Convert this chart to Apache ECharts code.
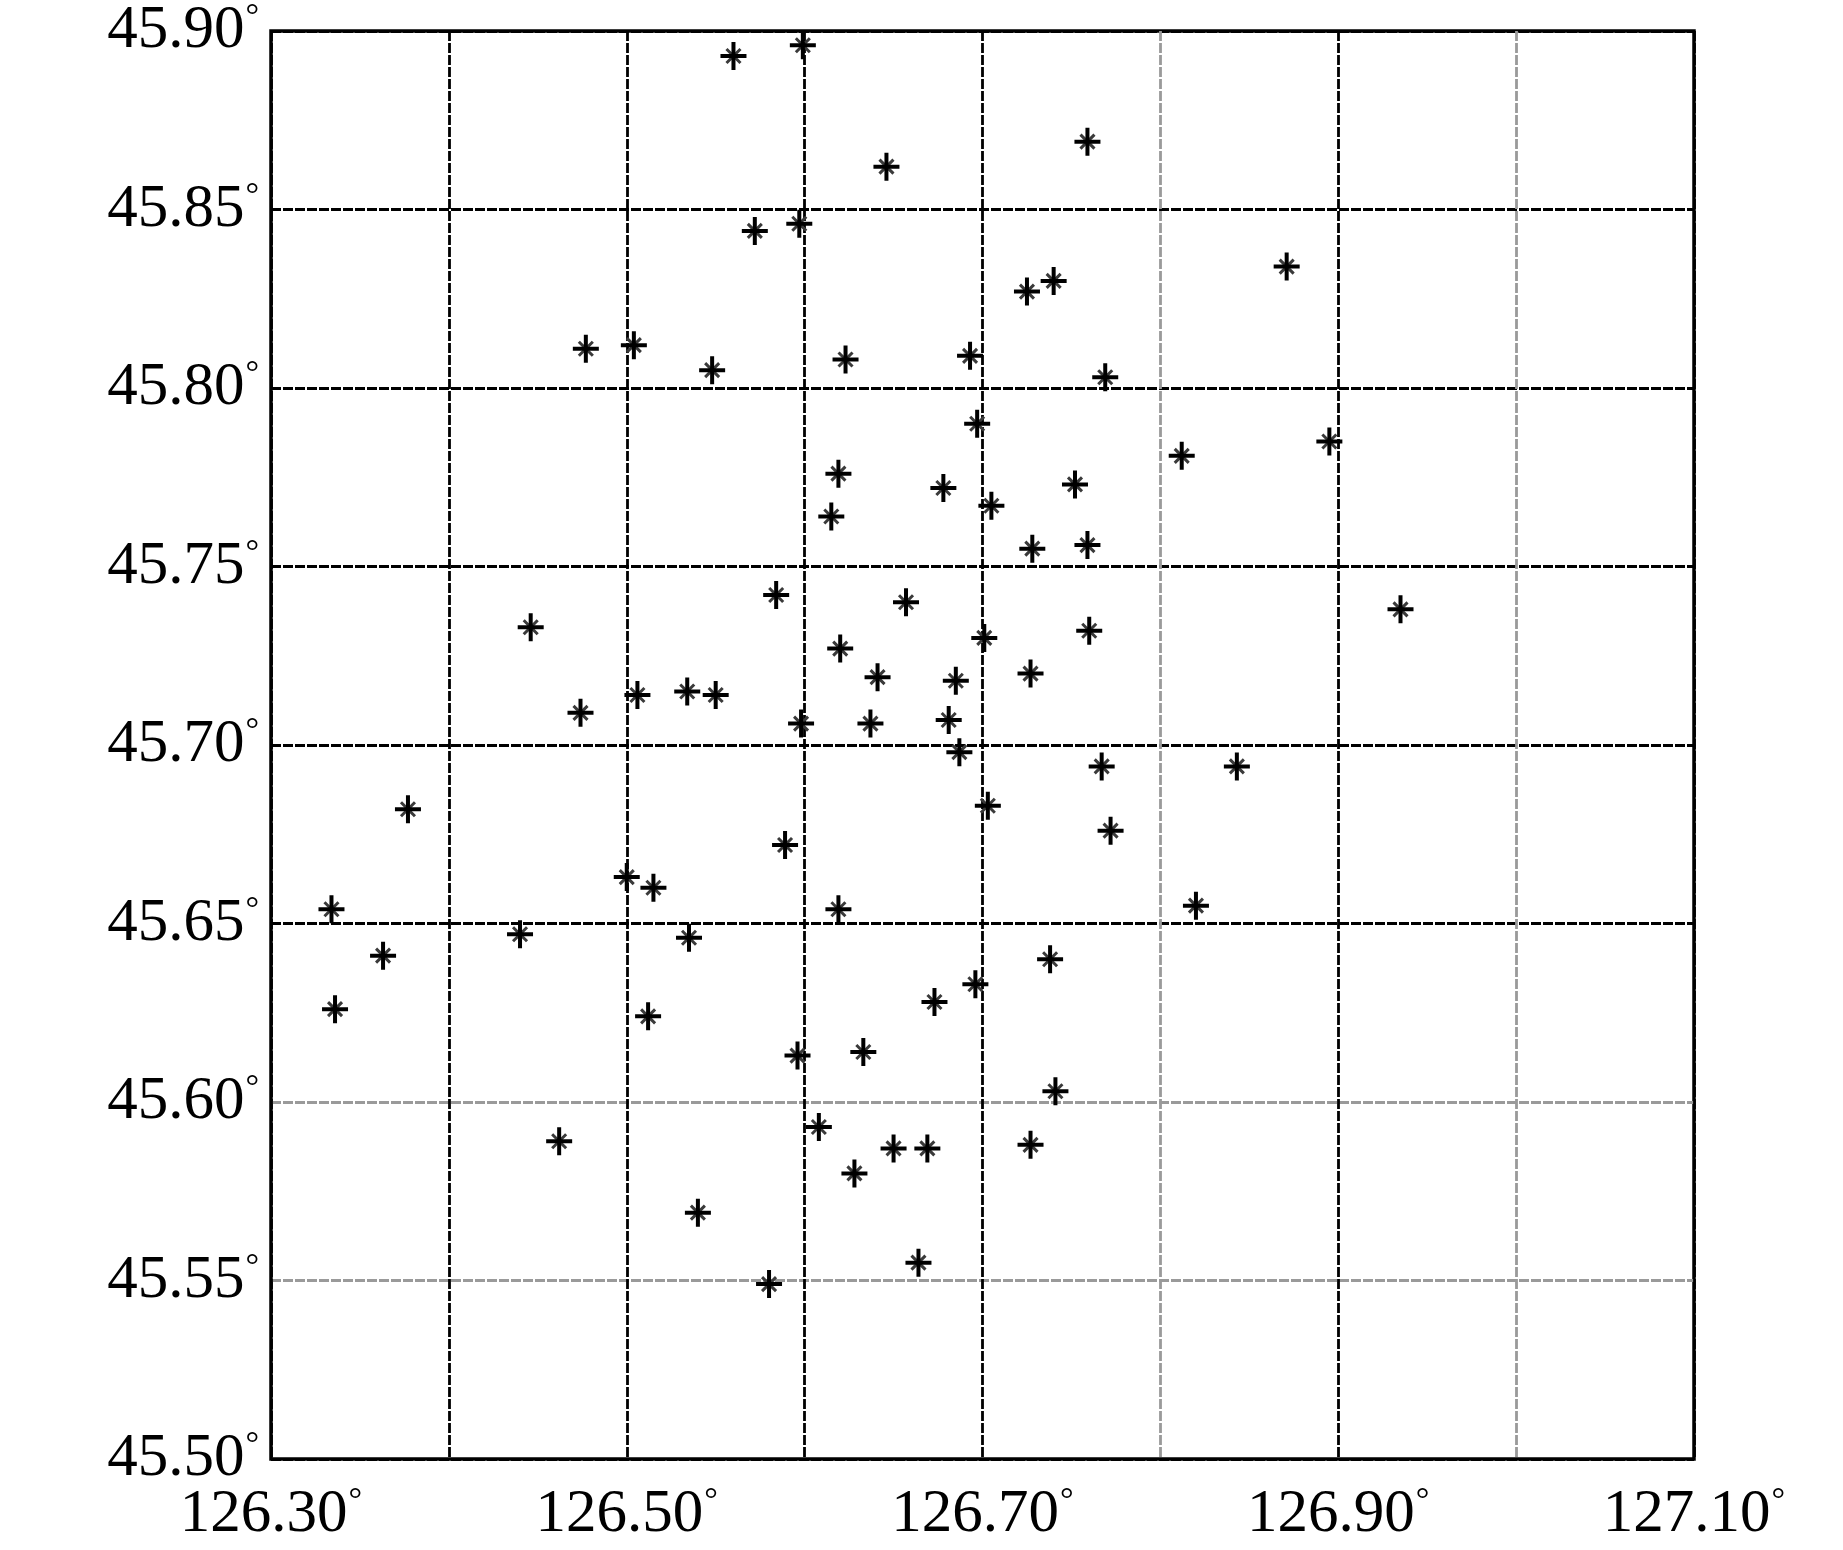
<!DOCTYPE html>
<html>
<head>
<meta charset="utf-8">
<script src="https://cdn.jsdelivr.net/npm/echarts@6/dist/echarts.min.js"></script>
<style>
html, body { margin: 0; padding: 0; background: #fff; }
#chart { width: 1843px; height: 1550px; }
</style>
</head>
<body>
<div id="chart"></div>
<script>
// 经度 (x) / 纬度 (y) of each station
var lon = [
  126.560, 126.599, 126.646, 126.759, 126.572, 126.597, 126.871, 126.725, 126.740, 126.477,
  126.504, 126.548, 126.623, 126.693, 126.769, 126.697, 126.812, 126.895, 126.619, 126.615,
  126.678, 126.705, 126.752, 126.728, 126.759, 126.584, 126.657, 126.935, 126.446, 126.760,
  126.701, 126.620, 126.641, 126.727, 126.685, 126.534, 126.550, 126.506, 126.474, 126.598,
  126.637, 126.681, 126.687, 126.767, 126.843, 126.377, 126.703, 126.772, 126.589, 126.500,
  126.515, 126.334, 126.619, 126.820, 126.440, 126.535, 126.363, 126.738, 126.696, 126.673,
  126.336, 126.512, 126.633, 126.596, 126.741, 126.608, 126.462, 126.650, 126.669, 126.727,
  126.628, 126.540, 126.664, 126.580
];
var lat = [
  45.893, 45.896, 45.862, 45.869, 45.844, 45.846, 45.834, 45.827, 45.830, 45.811,
  45.812, 45.805, 45.808, 45.809, 45.803, 45.790, 45.781, 45.785, 45.776, 45.764,
  45.772, 45.767, 45.773, 45.755, 45.756, 45.742, 45.740, 45.738, 45.733, 45.732,
  45.730, 45.727, 45.719, 45.720, 45.718, 45.715, 45.714, 45.714, 45.709, 45.706,
  45.706, 45.707, 45.698, 45.694, 45.694, 45.682, 45.683, 45.676, 45.672, 45.663,
  45.660, 45.654, 45.654, 45.655, 45.647, 45.646, 45.641, 45.640, 45.633, 45.628,
  45.626, 45.624, 45.614, 45.613, 45.603, 45.593, 45.589, 45.587, 45.587, 45.588,
  45.580, 45.569, 45.555, 45.549
];

// 坐标轴标签
var xLabels = ['126.30', '126.50', '126.70', '126.90', '127.10'];
var yLabels = ['45.50', '45.55', '45.60', '45.65', '45.70', '45.75', '45.80', '45.85', '45.90'];

var points = [];
for (var i = 0; i < lon.length; i++) {
  points.push([lon[i], lat[i]]);
}

var font = "'Liberation Serif', 'DejaVu Serif', serif";
var K = '#000', G = '#9a9a9a';

// 数字 + 上标度数符号
var labelRich = {
  n: { fontFamily: font, fontSize: 61, color: '#000' },
  d: { fontFamily: font, fontSize: 34, color: '#000', verticalAlign: 'top', padding: [0, 0, 26, 1] }
};
function degLabel(list) {
  return function (v) {
    var s = v.toFixed(2);
    return list.indexOf(s) >= 0 ? '{n|' + s + '}{d|°}' : '';
  };
}

var chart = echarts.init(document.getElementById('chart'));
var option = {
  backgroundColor: '#fff',
  animation: false,
  grid: {
    left: 271, right: 149, top: 31, bottom: 91,
    outerBoundsMode: 'none',
    show: true,
    borderColor: '#000',
    borderWidth: 3.5
  },
  xAxis: {
    type: 'value',
    min: 126.3,
    max: 127.1,
    interval: 0.1,
    axisLine: { show: false },
    axisTick: { show: false },
    axisLabel: {
      margin: 25,
      formatter: degLabel(xLabels),
      rich: labelRich
    },
    splitLine: {
      show: true,
      lineStyle: { color: [K, K, K, K, K, G, K, G, K], width: 2.8, type: [10, 2] }
    }
  },
  yAxis: {
    type: 'value',
    min: 45.5,
    max: 45.9,
    interval: 0.05,
    axisLine: { show: false },
    axisTick: { show: false },
    axisLabel: {
      margin: 12,
      formatter: degLabel(yLabels),
      rich: labelRich
    },
    splitLine: {
      show: true,
      lineStyle: { color: [K, G, G, K, K, K, K, K, K], width: 2.8, type: [10, 2] }
    }
  },
  series: [
    {
      // 斜线
      type: 'scatter',
      data: points,
      symbol: 'path://M-6,-6L6,6M-6,6L6,-6',
      symbolSize: 14,
      itemStyle: { color: 'rgba(0,0,0,0)', borderColor: '#3a3a3a', borderWidth: 3, opacity: 1 },
      z: 3
    },
    {
      // 黑色十字
      type: 'scatter',
      data: points,
      symbol: 'path://M-2,-14H2V14H-2Z M-13,-2H13V2H-13Z',
      symbolSize: [26, 28],
      itemStyle: { color: '#000', opacity: 1 },
      z: 4
    }
  ]
};
chart.setOption(option);
</script>
</body>
</html>
